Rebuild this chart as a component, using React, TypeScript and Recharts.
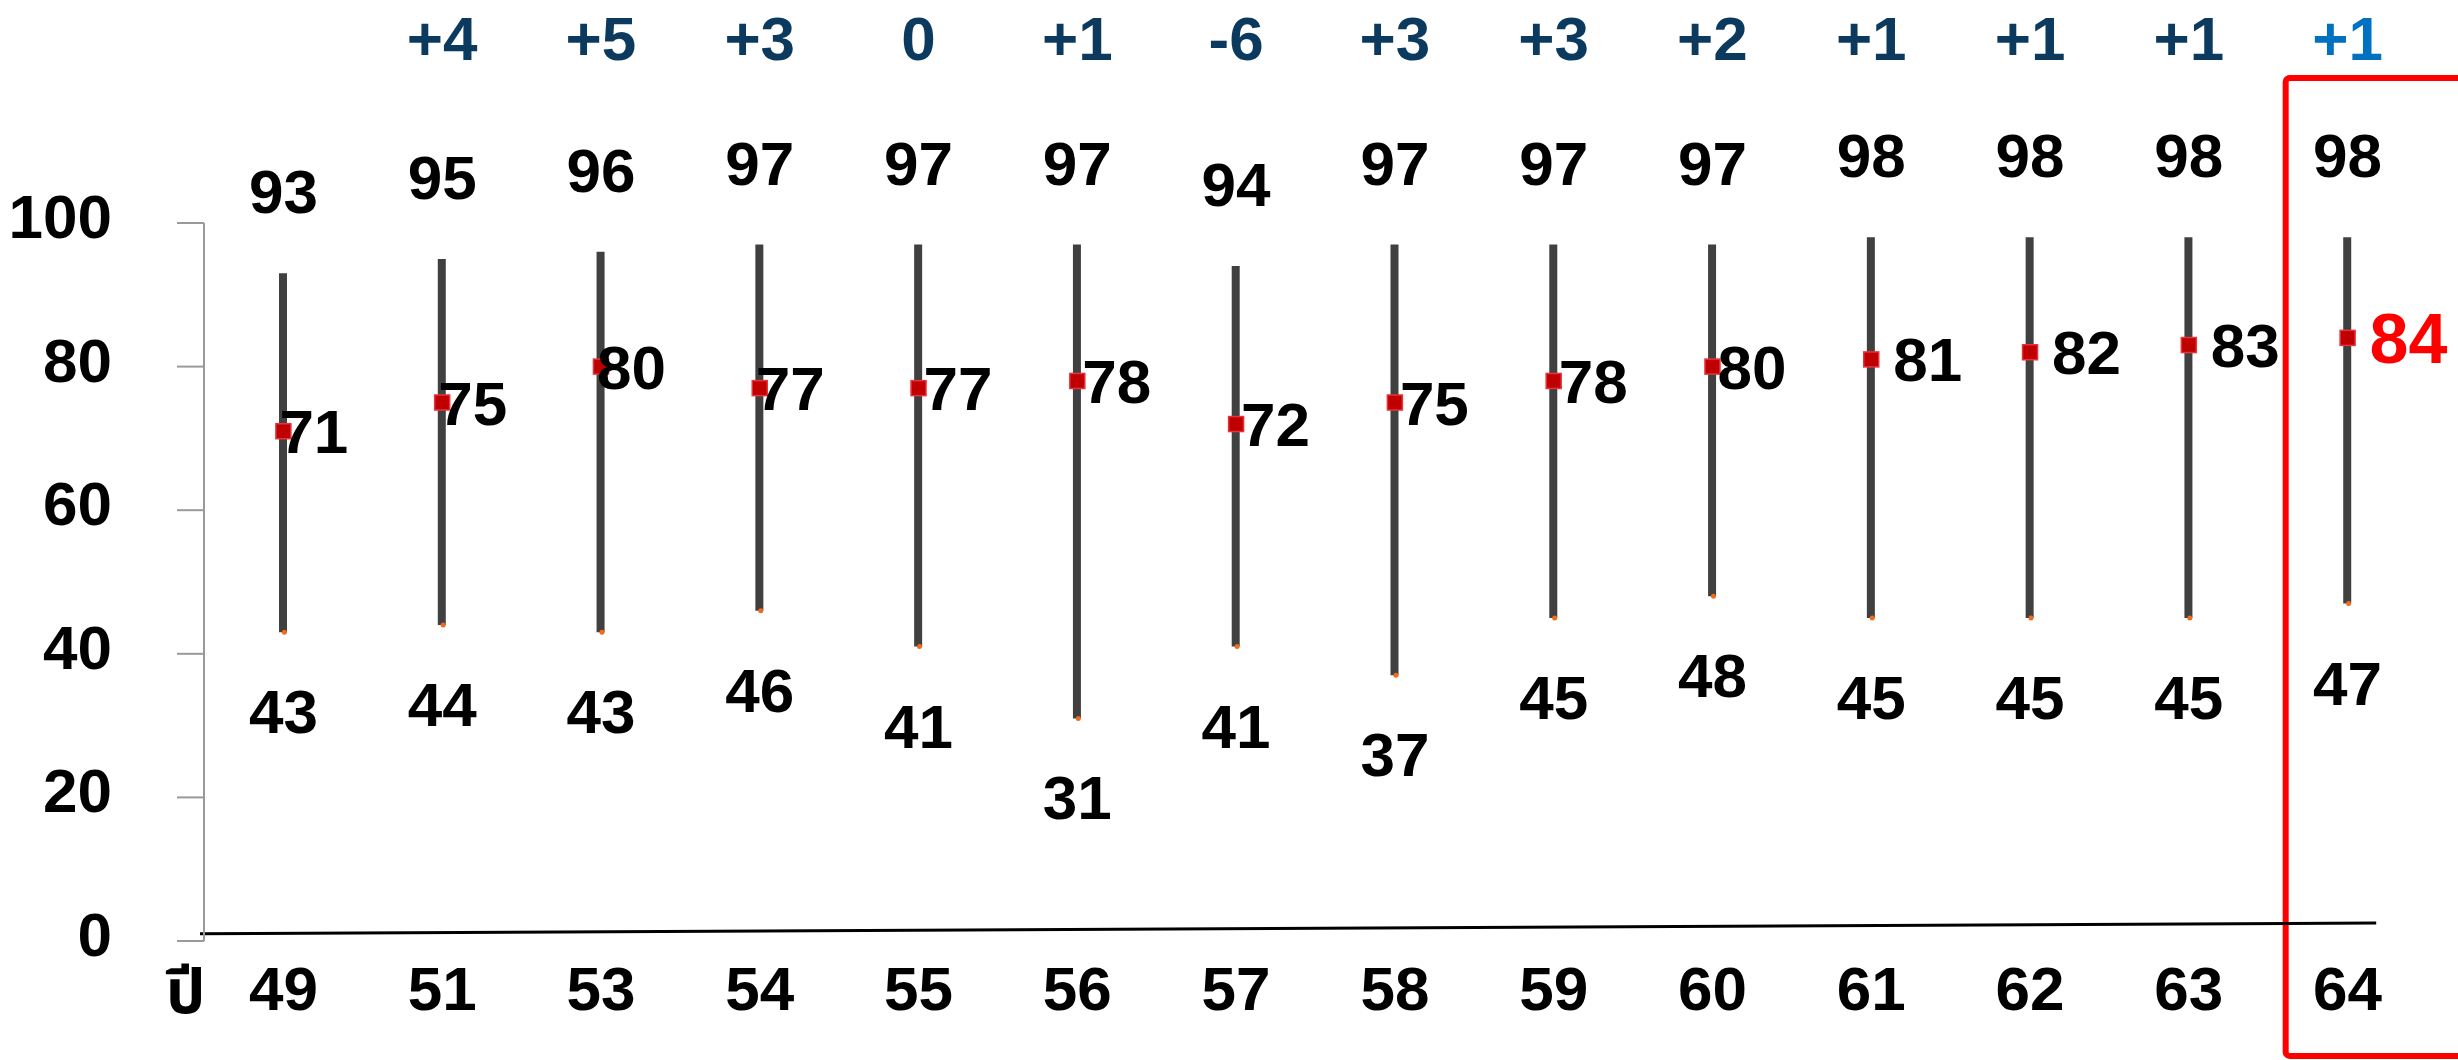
import React from 'react';
import { ComposedChart, Bar, Line, XAxis, YAxis, ReferenceArea, ReferenceLine } from 'recharts';

// ---- data ----
const years = ['49', '51', '53', '54', '55', '56', '57', '58', '59', '60', '61', '62', '63', '64'];
const highs = [93, 95, 96, 97, 97, 97, 94, 97, 97, 97, 98, 98, 98, 98];
const avgs = [71, 75, 80, 77, 77, 78, 72, 75, 78, 80, 81, 82, 83, 84];
const lows = [43, 44, 43, 46, 41, 31, 41, 37, 45, 48, 45, 45, 45, 47];
const deltas = ['', '+4', '+5', '+3', '0', '+1', '-6', '+3', '+3', '+2', '+1', '+1', '+1', '+1'];
const yTicks = [0, 20, 40, 60, 80, 100];
const yearPrefix = 'ปี';

const data = years.map((year, i) => ({
  year,
  idx: i,
  high: highs[i],
  low: lows[i],
  avg: avgs[i],
  range: [lows[i], highs[i]],
  delta: deltas[i],
}));

const FONT = '"Liberation Sans", Arial, "Noto Sans Thai", "Noto Sans", "DejaVu Sans", sans-serif';
const LAST = years.length - 1;

const HighLabel = (props: any) => {
  const { x, y, value } = props;
  return (
    <text x={x} y={y - 60} textAnchor="middle" fontFamily={FONT} fontWeight="bold" fontSize={62} fill="#000">
      {value}
    </text>
  );
};

const LowLabel = (props: any) => {
  const { x, y, value } = props;
  return (
    <text x={x} y={y + 101} textAnchor="middle" fontFamily={FONT} fontWeight="bold" fontSize={62} fill="#000">
      {value}
    </text>
  );
};

const avgNudge = (i: number) => (i < 4 ? -4 : i < 10 ? 5 : 22);

const AvgLabel = (props: any) => {
  const { x, y, value, index } = props;
  const isLast = index === LAST;
  return (
    <text
      x={x + avgNudge(index)}
      y={y + (isLast ? 25 : 22)}
      textAnchor="start"
      fontFamily={FONT}
      fontWeight="bold"
      fontSize={isLast ? 70 : 62}
      fill={isLast ? '#FF0000' : '#000'}
    >
      {value}
    </text>
  );
};

const AvgDot = (props: any) => {
  const { cx, cy, index } = props;
  return (
    <rect
      key={`avg-${index}`}
      x={cx - 7.5}
      y={cy - 7.5}
      width={15}
      height={15}
      fill="#C00000"
      stroke="#E8333C"
      strokeWidth={1.5}
    />
  );
};

const LowDot = (props: any) => {
  const { cx, cy, index } = props;
  return <circle key={`low-${index}`} cx={cx + 1} cy={cy} r={2.5} fill="#F26B1D" />;
};

const YTick = (props: any) => {
  const { x, y, payload } = props;
  return (
    <text x={x} y={y + 15} textAnchor="end" fontFamily={FONT} fontWeight="bold" fontSize={62} fill="#000">
      {payload.value}
    </text>
  );
};

const XTick = (props: any) => {
  const { x, y, payload, index } = props;
  return (
    <g>
      {index === 0 && (
        <text x={x - 78} y={y + 72} textAnchor="end" fontFamily={FONT} fontWeight="bold" fontSize={62} fill="#000">
          {yearPrefix}
        </text>
      )}
      <text x={x} y={y + 69} textAnchor="middle" fontFamily={FONT} fontWeight="bold" fontSize={62} fill="#000">
        {payload.value}
      </text>
    </g>
  );
};

const TopTick = (props: any) => {
  const { x, y, index } = props;
  const label = deltas[index];
  if (!label) return <g />;
  return (
    <text
      x={x}
      y={y - 163}
      textAnchor="middle"
      fontFamily={FONT}
      fontWeight="bold"
      fontSize={62}
      fill={index === LAST ? '#0070C0' : '#0B3A5E'}
    >
      {label}
    </text>
  );
};

export default function App() {
  return (
    <div style={{ position: 'absolute', left: 0, top: 0, width: 2458, height: 1060, background: '#fff', overflow: 'hidden' }}>
      <ComposedChart width={2458} height={1060} data={data} margin={{ top: 0, right: 31, bottom: 0, left: 0 }}>
        <XAxis
          dataKey="year"
          xAxisId={0}
          height={119}
          axisLine={false}
          tickLine={false}
          tickSize={0}
          tickMargin={0}
          interval={0}
          tick={<XTick />}
        />
        <XAxis
          dataKey="year"
          xAxisId="top"
          orientation="top"
          height={223}
          axisLine={false}
          tickLine={false}
          tickSize={0}
          tickMargin={0}
          interval={0}
          tick={<TopTick />}
        />
        <XAxis dataKey="idx" xAxisId="n" type="number" domain={[-0.5, 13.5]} hide allowDataOverflow />
        <YAxis
          domain={[0, 100]}
          ticks={yTicks}
          width={204}
          axisLine={{ stroke: '#999999', strokeWidth: 2 }}
          tickLine={{ stroke: '#999999', strokeWidth: 2 }}
          tickSize={27}
          tickMargin={65}
          interval={0}
          tick={<YTick />}
        />
        <ReferenceLine
          xAxisId="n"
          segment={[
            { x: -0.525, y: 1.0 },
            { x: 13.18, y: 2.5 },
          ]}
          stroke="#000"
          strokeWidth={3}
          ifOverflow="visible"
        />
        <Bar dataKey="range" barSize={8} fill="#404040" isAnimationActive={false} />
        <Line
          dataKey="high"
          stroke="transparent"
          strokeWidth={0}
          dot={false}
          activeDot={false}
          isAnimationActive={false}
          label={<HighLabel />}
        />
        <Line
          dataKey="low"
          stroke="transparent"
          strokeWidth={0}
          dot={<LowDot />}
          activeDot={false}
          isAnimationActive={false}
          label={<LowLabel />}
        />
        <Line
          dataKey="avg"
          stroke="transparent"
          strokeWidth={0}
          dot={<AvgDot />}
          activeDot={false}
          isAnimationActive={false}
          label={<AvgLabel />}
        />
        <ReferenceArea
          xAxisId="n"
          x1={12.61}
          x2={13.8}
          y1={-16}
          y2={120.2}
          ifOverflow="visible"
          fill="none"
          fillOpacity={0}
          stroke="#FF0000"
          strokeWidth={6}
          radius={4}
        />
      </ComposedChart>
    </div>
  );
}
